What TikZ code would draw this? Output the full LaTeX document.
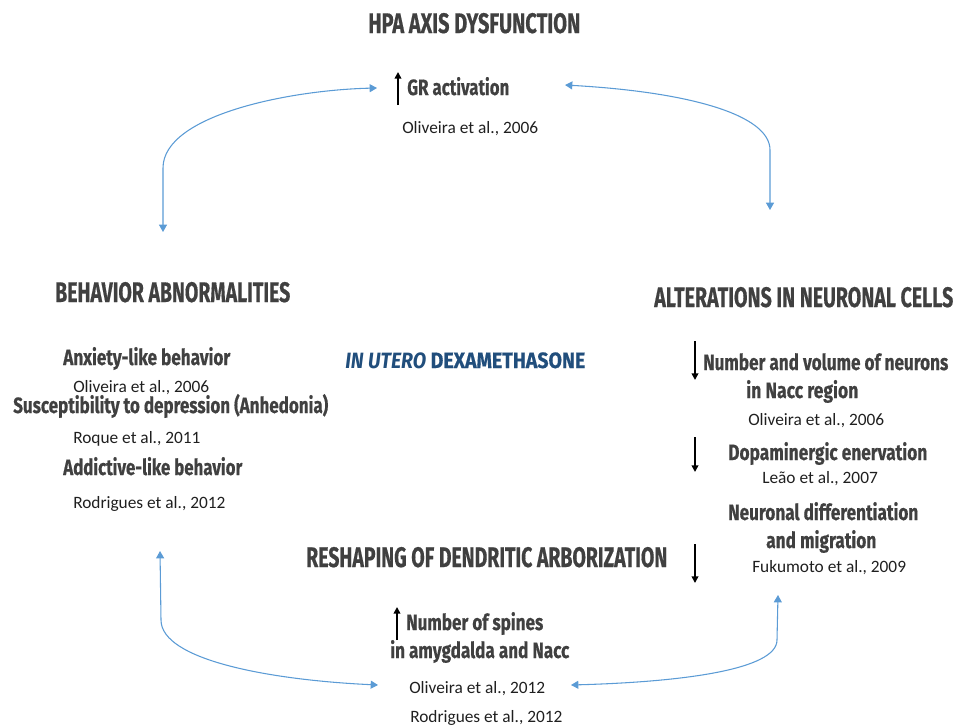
\documentclass[tikz,border=0pt]{standalone}
\usepackage{fontspec}
\usepackage{graphicx}
\setmainfont{Carlito}
\newfontfamily\cond[BoldFeatures={FakeBold=0.6}]{Fira Sans}
\usetikzlibrary{arrows.meta}
\definecolor{hgray}{RGB}{64,64,64}
\definecolor{linkblue}{RGB}{91,155,213}
\definecolor{dexblue}{RGB}{33,78,124}
\newlength\pxu \setlength\pxu{0.75pt}
\newcommand\fitw[2]{\resizebox{#1\pxu}{\height}{#2}}
\tikzset{
  headtxt/.style={font=\cond\bfseries\fontsize{21.2}{24}\selectfont, text=hgray, inner sep=0pt, anchor=base west},
  subtxt/.style={font=\cond\bfseries\fontsize{16.6}{19}\selectfont, text=hgray, inner sep=0pt, anchor=base west},
  citetxt/.style={font=\fontsize{13}{15}\selectfont, text=black!88, inner sep=0pt, anchor=base west},
  link/.style={draw=linkblue, line width=0.8pt, {Triangle[width=6pt,length=5.5pt]}-{Triangle[width=6pt,length=5.5pt]}},
  ind/.style={draw=black, line width=1.2pt, -{Triangle[width=5pt,length=5pt]}},
}
\begin{document}
\begin{tikzpicture}[x=0.75pt,y=-0.75pt]
\useasboundingbox (0,0) rectangle (957,725);
% top
\node[headtxt] (hpa) at (368,33) {\fitw{212}{HPA AXIS DYSFUNCTION}};
\node[subtxt] (gr) at (407,95) {\fitw{102}{GR activation}};
\node[citetxt] (c1) at (402,133) {Oliveira et al., 2006};
\coordinate (g1) at (398,105); \coordinate (g2) at (398,72);
\draw[ind] (g1) -- (g2);
% left
\node[headtxt] (beh) at (55,302) {\fitw{235}{BEHAVIOR ABNORMALITIES}};
\node[subtxt] (anx) at (63,365) {\fitw{167}{Anxiety-like behavior}};
\node[citetxt] (c2) at (73,392) {Oliveira et al., 2006};
\node[subtxt] (sus) at (13,413) {\fitw{315}{Susceptibility to depression (Anhedonia)}};
\node[citetxt] (c3) at (73,443) {Roque et al., 2011};
\node[subtxt] (add) at (63,475) {\fitw{179}{Addictive-like behavior}};
\node[citetxt] (c4) at (73,508) {Rodrigues et al., 2012};
% right
\node[headtxt] (alt) at (654,307) {\fitw{299}{ALTERATIONS IN NEURONAL CELLS}};
\node[subtxt] (num) at (703,370) {\fitw{245}{Number and volume of neurons}};
\node[subtxt] (nacc) at (746,398) {\fitw{112}{in Nacc region}};
\node[citetxt] (c5) at (748,425) {Oliveira et al., 2006};
\node[subtxt] (dop) at (728,460) {\fitw{199}{Dopaminergic enervation}};
\node[citetxt] (c6) at (762,483) {Leão et al., 2007};
\node[subtxt] (neu) at (728,520) {\fitw{190}{Neuronal differentiation}};
\node[subtxt] (mig) at (766,548) {\fitw{110}{and migration}};
\node[citetxt] (c7) at (752,572) {Fukumoto et al., 2009};
\coordinate (d1a) at (695,341); \coordinate (d1b) at (695,380);
\coordinate (d2a) at (695,437); \coordinate (d2b) at (695,472);
\coordinate (d3a) at (695,544); \coordinate (d3b) at (695,583);
\draw[ind] (d1a) -- (d1b);
\draw[ind] (d2a) -- (d2b);
\draw[ind] (d3a) -- (d3b);
% centre
\node[subtxt, text=dexblue] (dex) at (345,368) {\fitw{240}{\itshape IN UTERO\upshape{} DEXAMETHASONE}};
% bottom
\node[headtxt] (res) at (306,567) {\fitw{361}{RESHAPING OF DENDRITIC ARBORIZATION}};
\node[subtxt] (spi) at (406,630) {\fitw{137}{Number of spines}};
\node[subtxt] (amy) at (390,658) {\fitw{179}{in amygdalda and Nacc}};
\node[citetxt] (c8) at (409,693) {Oliveira et al., 2012};
\node[citetxt] (c9) at (410,722) {Rodrigues et al., 2012};
\coordinate (s1) at (397,640); \coordinate (s2) at (397,607);
\draw[ind] (s1) -- (s2);
% blue links
\coordinate (tl1) at (377,88); \coordinate (tl2) at (163,232);
\coordinate (tr1) at (565,85); \coordinate (tr2) at (770,210);
\coordinate (bl1) at (160,551); \coordinate (bl2) at (378,685);
\coordinate (br1) at (778,595); \coordinate (br2) at (571,685);
\draw[link] (tl2) -- (163,168) .. controls (163,115) and (290,90) .. (tl1);
\draw[link] (tr1) .. controls (690,92) and (770,115) .. (770,150) -- (tr2);
\draw[link] (bl1) -- (161,620) .. controls (161,660) and (270,680) .. (bl2);
\draw[link] (br1) -- (777,640) .. controls (777,670) and (680,682) .. (br2);
\end{tikzpicture}
\end{document}
